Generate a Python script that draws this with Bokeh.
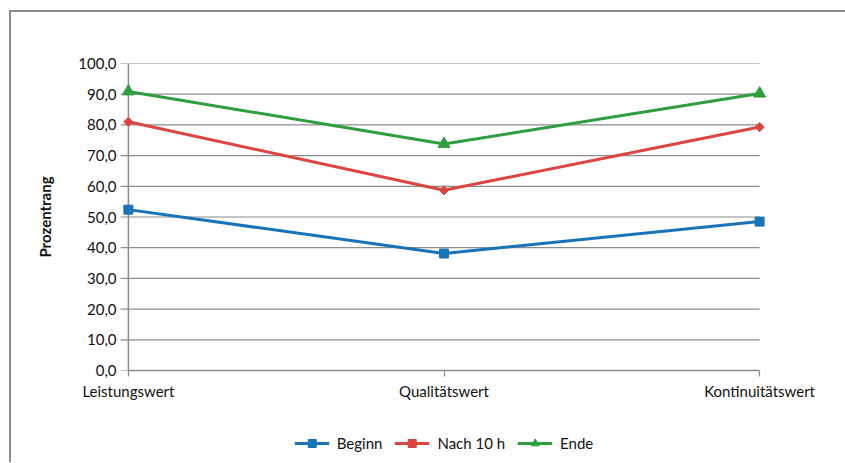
import math
from bokeh.plotting import figure
from bokeh.layouts import column
from bokeh.models import Range1d, FixedTicker, Legend, LegendItem, CustomJSTickFormatter
from bokeh.embed import file_html
from bokeh.resources import INLINE

categories = ["Leistungswert", "Qualitätswert", "Kontinuitätswert"]
beginn = [52.4, 38.1, 48.5]
nach10 = [81.0, 58.7, 79.3]
ende = [90.9, 73.8, 90.2]
series_names = ["Beginn", "Nach 10 h", "Ende"]
y_ticks = [0, 10, 20, 30, 40, 50, 60, 70, 80, 90, 100]

FONT = "Lato"
GRAY = "#8c8c8c"
blue, red, green = "#1874b8", "#dd4440", "#2e9e3e"
xs = list(range(len(categories)))
pad = 0.025

# main chart: figure placed at x=11, y=12 inside the bordered column
p = figure(width=834, height=400, output_backend="svg", toolbar_location=None,
           x_range=Range1d(-pad, 2 + pad), y_range=Range1d(0, 100),
           min_border_left=109, min_border_right=78, min_border_top=51, min_border_bottom=42)
p.outline_line_color = None
p.xgrid.grid_line_color = None
p.ygrid.grid_line_color = None

# horizontal grid lines (overhang on the left acts as y tick marks)
p.segment(x0=[-pad] * len(y_ticks), x1=[xs[-1]] * len(y_ticks), y0=y_ticks, y1=y_ticks,
          line_color=GRAY, line_width=1.2)
# vertical axis line at first category
p.segment(x0=[xs[0]], x1=[xs[0]], y0=[y_ticks[0]], y1=[y_ticks[-1]], line_color=GRAY, line_width=1.5)

p.xaxis.ticker = FixedTicker(ticks=xs)
p.xaxis.major_label_overrides = {i: c for i, c in enumerate(categories)}
p.xaxis.bounds = (xs[0], xs[-1])
p.yaxis.ticker = FixedTicker(ticks=y_ticks)
p.yaxis.formatter = CustomJSTickFormatter(code="return tick.toFixed(1).replace('.', ',');")
for ax in (p.xaxis[0], p.yaxis[0]):
    ax.axis_line_color = GRAY
    ax.axis_line_width = 1.5
    ax.major_tick_line_color = GRAY
    ax.major_tick_line_width = 1.2
    ax.major_tick_out = 6
    ax.major_tick_in = 0
    ax.minor_tick_line_color = None
    ax.major_label_text_font = FONT
    ax.major_label_text_font_size = "15px"
    ax.major_label_text_color = "#111111"
p.yaxis.axis_line_color = None
p.yaxis.major_tick_line_color = None
p.yaxis.major_tick_out = 0
p.xaxis.major_label_standoff = 5
p.yaxis.major_label_standoff = 4
p.yaxis.axis_label = "Prozentrang"
p.yaxis.axis_label_text_font = FONT
p.yaxis.axis_label_text_font_style = "bold"
p.yaxis.axis_label_text_font_size = "15px"
p.yaxis.axis_label_text_color = "#111111"
p.yaxis.axis_label_standoff = 21

p.line(xs, beginn, line_color=blue, line_width=3)
p.scatter(xs, beginn, marker="square", size=9, fill_color=blue, line_color=blue)
p.line(xs, nach10, line_color=red, line_width=3)
p.scatter(xs, nach10, marker="square", size=6.5, angle=math.pi / 4, fill_color=red, line_color=red)
p.line(xs, ende, line_color=green, line_width=3)
p.scatter(xs, ende, marker="triangle", size=12, fill_color=green, line_color=green)

# legend strip below the chart (legend renderers sit outside the visible range)
lg = figure(width=834, height=50, output_backend="svg", toolbar_location=None,
            x_range=Range1d(0, 1), y_range=Range1d(0, 1),
            x_axis_location=None, y_axis_location=None, min_border=0)
lg.outline_line_color = None
lg.xgrid.grid_line_color = None
lg.ygrid.grid_line_color = None
items = []
for name, col, mk, sz, ang in [(series_names[0], blue, "square", 9, 0),
                               (series_names[1], red, "square", 6.5, math.pi / 4),
                               (series_names[2], green, "triangle", 11, 0)]:
    r1 = lg.line(x=[5, 6], y=[5, 6], line_color=col, line_width=3)
    r2 = lg.scatter(x=[5], y=[5], marker=mk, size=sz, angle=ang, fill_color=col, line_color=col)
    items.append(LegendItem(label=name, renderers=[r1, r2]))
legend = Legend(items=items, orientation="horizontal", location="bottom_center",
                label_text_font=FONT, label_text_font_size="15px", label_text_color="#111111",
                glyph_width=35, glyph_height=20, spacing=12, label_standoff=8,
                border_line_color=None, background_fill_alpha=0, margin=9, padding=4)
lg.add_layout(legend, "center")

layout = column(p, lg, spacing=0, margin=(10, 0, 0, 9),
                styles={"border-top": "2px solid #8c8c8c", "border-left": "2px solid #8c8c8c"})

open("out.html", "w").write(file_html(layout, INLINE))
